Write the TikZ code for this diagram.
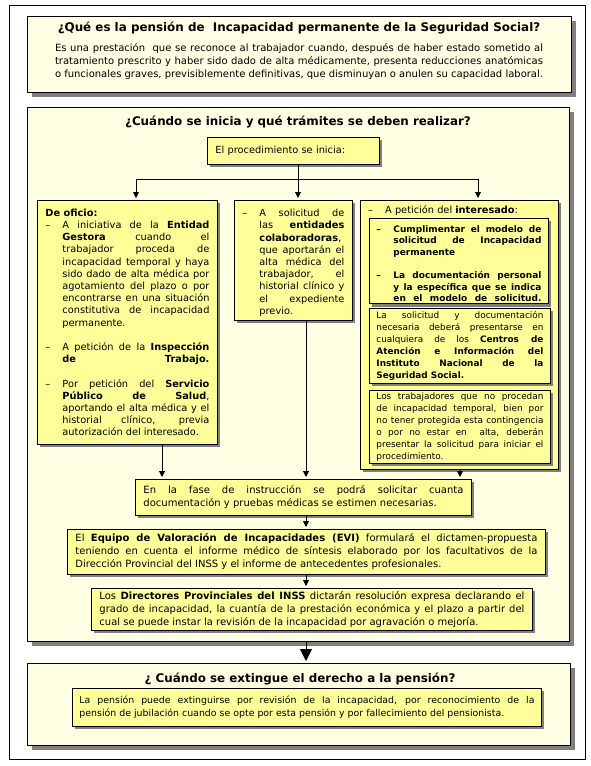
\documentclass[tikz,border=0pt]{standalone}
\usepackage{fontspec}
\setmainfont{DejaVu Sans}
\usepackage{xcolor}
\usepackage{tikz}
\usetikzlibrary{arrows.meta,shadows}

\definecolor{fondo}{HTML}{FFFFE3}
\definecolor{amarillo}{HTML}{FFFF99}
\definecolor{sombra}{HTML}{808080}

\hyphenpenalty=10000
\exhyphenpenalty=10000
\tolerance=10000
\hbadness=10000

\newcommand{\guion}{\par\noindent\hangindent=17pt\hangafter=1\makebox[17pt][l]{--}\ignorespaces}
\newcommand{\hueco}{\par\vspace{\baselineskip}}

\tikzset{
  panel/.style={draw, line width=0.9pt, fill=fondo, anchor=north west, inner sep=0pt,
    drop shadow={shadow xshift=5pt, shadow yshift=-5pt, fill=sombra, opacity=1}},
  caja/.style={draw, line width=0.9pt, fill=amarillo, anchor=north west,
    inner xsep=8pt, inner ysep=2pt, align=justify, font=\fontsize{9.8}{12.2}\selectfont,
    drop shadow={shadow xshift=3pt, shadow yshift=-3pt, fill=sombra, opacity=1}},
  cajab/.style={caja, font=\fontsize{10}{13}\selectfont},
  cajap/.style={caja, inner xsep=7pt, font=\fontsize{8.9}{12}\selectfont},
  texto/.style={inner sep=0pt, align=justify, font=\fontsize{10}{13}\selectfont},
  titulo/.style={inner sep=0pt, font=\bfseries\fontsize{11.9}{14}\selectfont},
  flecha/.style={line width=0.9pt, -{Triangle[width=6pt,length=6pt]}, shorten >=2pt},
}

\begin{document}
\begin{tikzpicture}[x=1pt,y=-1pt]
    \useasboundingbox (0,0) rectangle (590,766);
    \fill[white] (0,0) rectangle (590,766);
    \draw[line width=0.9pt] (9,5) rectangle (585,759);

    \node[panel, minimum width=544, minimum height=76] (pregunta) at (27,16) {};
    \node[titulo] (tit1) at (299,28) {¿Qué es la pensión de\ \ Incapacidad permanente de la Seguridad Social?};
    \node[texto, text width=488, anchor=north] (definicion) at (299,43) {Es una prestación\ \ que se reconoce al trabajador cuando, después de haber estado sometido al tratamiento prescrito y haber sido dado de alta médicamente, presenta reducciones anatómicas o funcionales graves, previsiblemente definitivas, que disminuyan o anulen su capacidad laboral.};

    \node[panel, minimum width=542, minimum height=534] (medio) at (27,107) {};
    \node[titulo] (tit2) at (298,122) {¿Cuándo se inicia y qué trámites se deben realizar?};
    \node[caja, text width=156, minimum height=27, align=left] (proc) at (207,137) {El procedimiento se inicia:};

    \node[caja, text width=164, minimum height=244] (izq) at (37,200) {\noindent\textbf{De oficio:}\guion A iniciativa de la \textbf{Entidad}\linebreak \textbf{Gestora} cuando el\linebreak trabajador proceda de\linebreak incapacidad temporal y haya\linebreak sido dado de alta médica por\linebreak agotamiento del plazo o por\linebreak encontrarse en una situación\linebreak constitutiva de incapacidad\linebreak permanente.\hueco\guion A petición de la \textbf{Inspección}\linebreak \textbf{de\hfill Trabajo.}\hueco\guion Por petición del \textbf{Servicio}\linebreak \textbf{Público de Salud},\linebreak aportando el alta médica y el\linebreak historial clínico, previa\linebreak autorización del interesado.\par};
    \node[caja, text width=102, minimum height=120] (cen) at (234,200) {\guion A solicitud de\linebreak las \textbf{entidades}\linebreak \textbf{colaboradoras},\linebreak que aportarán el\linebreak alta médica del\linebreak trabajador, el\linebreak historial clínico y\linebreak el expediente\linebreak previo.\par};

    \node[caja, minimum width=198, minimum height=269, inner sep=0pt] (dcha) at (360,200) {};
    \node[anchor=north west, inner sep=0pt, font=\fontsize{9.8}{12}\selectfont] (interesado) at (368,205) {\makebox[17pt][l]{--}A petición del \textbf{interesado}:};
    \node[cajap, text width=165, minimum height=84, font=\bfseries\fontsize{9}{11.6}\selectfont] (modelo) at (369,218) {\guion Cumplimentar el modelo de\linebreak solicitud de Incapacidad\linebreak permanente\hueco\guion La documentación personal\linebreak y la específica que se indica\linebreak en el modelo de solicitud.\parfillskip=0pt\par};
    \node[cajap, text width=167, minimum height=75] (centros) at (369,308) {La solicitud y documentación\linebreak necesaria deberá presentarse en\linebreak cualquiera de los \textbf{Centros de}\linebreak \textbf{Atención e Información del}\linebreak \textbf{Instituto Nacional de la}\linebreak \textbf{Seguridad Social.}\par};
    \node[cajap, text width=167, minimum height=71] (trabajadores) at (369,390) {Los trabajadores que no procedan\linebreak de incapacidad temporal, bien por\linebreak no tener protegida esta contingencia\linebreak o por no estar en\ \ alta, deberán\linebreak presentar la solicitud para iniciar el\linebreak procedimiento.\par};

    \node[cajab, text width=320, minimum height=36] (fase) at (135,479) {En la fase de instrucción se podrá solicitar cuanta\linebreak documentación y pruebas médicas se estimen necesarias.\par};
    \node[cajab, text width=462, minimum height=45] (evi) at (67,529) {El \textbf{Equipo de Valoración de Incapacidades (EVI)} formulará el dictamen-propuesta\linebreak teniendo en cuenta el informe médico de síntesis elaborado por los facultativos de la\linebreak Dirección Provincial del INSS y el informe de antecedentes profesionales.\par};
    \node[cajab, text width=425, minimum height=42] (directores) at (91,588) {Los \textbf{Directores Provinciales del INSS} dictarán resolución expresa declarando el\linebreak grado de incapacidad, la cuantía de la prestación económica y el plazo a partir del\linebreak cual se puede instar la revisión de la incapacidad por agravación o mejoría.\par};

    \node[panel, minimum width=543, minimum height=82] (final) at (27,663) {};
    \node[titulo] (tit3) at (300,679) {¿ Cuándo se extingue el derecho a la pensión?};
    \node[cajab, inner xsep=7pt, text width=455, minimum height=38, font=\fontsize{9.4}{13}\selectfont] (extincion) at (72,688) {La pensión puede extinguirse por revisión de la incapacidad, por reconocimiento de la\linebreak pensión de jubilación cuando se opte por esta pensión y por fallecimiento del pensionista.\par};

    \coordinate (ramaI) at (136,179);
    \coordinate (ramaC) at (298,179);
    \coordinate (ramaD) at (478,179);
    \draw[line width=0.9pt] (proc.south -| ramaC) -- (ramaC);
    \draw[line width=0.9pt] (ramaI) -- (ramaD);
    \draw[flecha] (ramaI) -- (ramaI |- izq.north);
    \draw[flecha] (ramaC) -- (ramaC |- cen.north);
    \draw[flecha] (ramaD) -- (ramaD |- dcha.north);

    \coordinate (bajaI) at (162,0);
    \coordinate (bajaC) at (306,0);
    \coordinate (bajaD) at (460,0);
    \draw[flecha] (izq.south -| bajaI) -- (fase.north -| bajaI);
    \draw[flecha] (cen.south -| bajaC) -- (fase.north -| bajaC);
    \draw[flecha] (dcha.south -| bajaD) -- (fase.north -| bajaD);
    \draw[flecha] (fase.south -| bajaC) -- (evi.north -| bajaC);
    \draw[flecha] (evi.south -| bajaC) -- (directores.north -| bajaC);
    \draw[line width=0.9pt, -{Triangle[width=12pt,length=12pt]}, shorten >=2pt] (medio.south -| bajaC) -- (final.north -| bajaC);
\end{tikzpicture}
\end{document}
